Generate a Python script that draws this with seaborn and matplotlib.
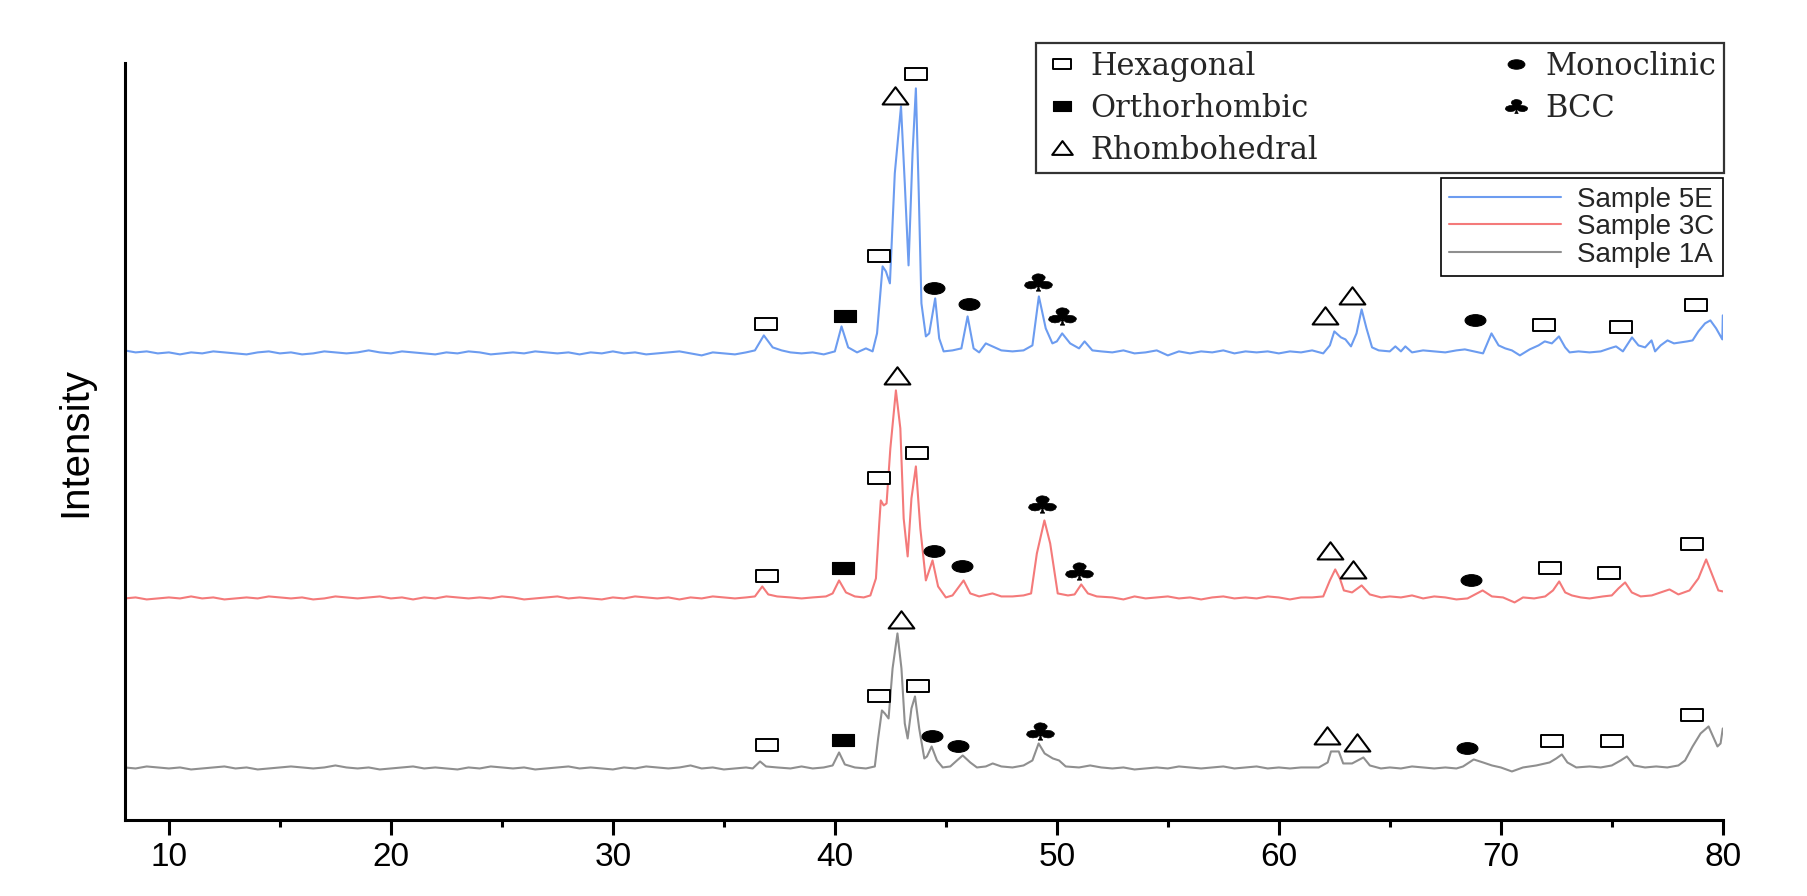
"""
XRD patterns of samples 1A, 3C and 5E with phase markers
"""

import matplotlib
matplotlib.use("Agg")
import matplotlib.pyplot as plt
import seaborn as sns
import pandas as pd
from matplotlib.lines import Line2D
from matplotlib.path import Path
from matplotlib.textpath import TextPath
from matplotlib.font_manager import FontProperties
from matplotlib.transforms import Affine2D
from matplotlib.ticker import MultipleLocator

# ---------------------------------------------------
# Data: (2theta, intensity above own baseline)
# ---------------------------------------------------
trace_5E = [
    (8.0, 3), (8.5, 1), (9.0, 2), (9.5, 0), (10.0, 1), (10.5, -1), (11.0, 1), (11.5, 0),
    (12.0, 2), (12.5, 1), (13.0, 0), (13.5, -1), (14.0, 1), (14.5, 2), (15.0, 0), (15.5, 1),
    (16.0, -1), (16.5, 0), (17.0, 2), (17.5, 1), (18.0, 0), (18.5, 1), (19.0, 3), (19.5, 1),
    (20.0, 0), (20.5, 2), (21.0, 1), (21.5, 0), (22.0, -1), (22.5, 1), (23.0, 0), (23.5, 2),
    (24.0, 1), (24.5, -1), (25.0, 0), (25.5, 1), (26.0, 0), (26.5, 2), (27.0, 1), (27.5, 0),
    (28.0, 1), (28.5, -1), (29.0, 1), (29.5, 0), (30.0, 2), (30.5, 0), (31.0, 1), (31.5, -1),
    (32.0, 0), (32.5, 1), (33.0, 2), (33.5, 0), (34.0, -2), (34.5, 1), (35.0, 0), (35.5, -1),
    (36.0, 1), (36.4, 3), (36.8, 18), (37.2, 6), (37.6, 3), (38.0, 1), (38.5, 0), (39.0, 1),
    (39.5, -1), (40.0, 2), (40.3, 27), (40.6, 6), (41.0, 1), (41.4, 5), (41.7, 2), (41.9, 20),
    (42.15, 87), (42.3, 82), (42.48, 70), (42.7, 180), (42.98, 247), (43.15, 170), (43.32, 88),
    (43.5, 200), (43.65, 265), (43.78, 160), (43.9, 50), (44.1, 17), (44.25, 20), (44.52, 55),
    (44.7, 15), (44.9, 2), (45.3, 3), (45.7, 5), (45.98, 37), (46.25, 5), (46.5, 1), (46.8, 10),
    (47.1, 7), (47.5, 3), (48.0, 2), (48.5, 3), (48.9, 8), (49.19, 57), (49.5, 25), (49.8, 10),
    (50.0, 12), (50.24, 20), (50.6, 10), (51.0, 5), (51.25, 12), (51.6, 3), (52.0, 2), (52.5, 1),
    (53.0, 3), (53.5, 0), (54.0, 1), (54.5, 3), (55.0, -2), (55.5, 2), (56.0, 0), (56.5, 2),
    (57.0, 1), (57.5, 3), (58.0, 0), (58.5, 2), (59.0, 1), (59.5, 2), (60.0, 0), (60.5, 2),
    (61.0, 1), (61.5, 3), (62.0, 0), (62.3, 8), (62.5, 22), (62.8, 16), (63.0, 14), (63.25, 7),
    (63.5, 20), (63.73, 44), (63.95, 25), (64.2, 6), (64.5, 3), (65.0, 2), (65.25, 7), (65.5, 2),
    (65.7, 7), (66.0, 1), (66.5, 3), (67.0, 2), (67.5, 1), (68.0, 3), (68.38, 4), (68.8, 2),
    (69.2, 0), (69.58, 20), (69.9, 8), (70.2, 5), (70.5, 3), (70.86, -2), (71.3, 4), (71.7, 8),
    (71.98, 12), (72.3, 10), (72.62, 17), (72.9, 6), (73.1, 1), (73.5, 2), (74.0, 1), (74.5, 2),
    (74.9, 5), (75.19, 7), (75.5, 2), (75.91, 16), (76.2, 8), (76.5, 6), (76.79, 13), (76.95, 2),
    (77.2, 8), (77.51, 13), (77.8, 10), (78.1, 11), (78.4, 12), (78.64, 13), (78.9, 22), (79.2, 30),
    (79.44, 33), (79.7, 25), (79.9, 17), (79.98, 14), (80.0, 38),
]

trace_3C = [
    (8.0, 0), (8.5, 1), (9.0, -1), (9.5, 0), (10.0, 1), (10.5, 0), (11.0, 2), (11.5, 0),
    (12.0, 1), (12.5, -1), (13.0, 0), (13.5, 1), (14.0, 0), (14.5, 2), (15.0, 1), (15.5, 0),
    (16.0, 1), (16.5, -1), (17.0, 0), (17.5, 2), (18.0, 1), (18.5, 0), (19.0, 1), (19.5, 2),
    (20.0, 0), (20.5, 1), (21.0, -1), (21.5, 1), (22.0, 0), (22.5, 2), (23.0, 1), (23.5, 0),
    (24.0, 1), (24.5, 0), (25.0, 2), (25.5, 1), (26.0, -1), (26.5, 0), (27.0, 1), (27.5, 2),
    (28.0, 0), (28.5, 1), (29.0, 0), (29.5, -1), (30.0, 1), (30.5, 0), (31.0, 2), (31.5, 1),
    (32.0, 0), (32.5, 1), (33.0, -1), (33.5, 1), (34.0, 0), (34.5, 2), (35.0, 1), (35.5, 0),
    (36.0, 1), (36.4, 2), (36.73, 12), (37.0, 4), (37.4, 2), (38.0, 1), (38.5, 0), (39.0, 1),
    (39.6, 2), (39.9, 5), (40.19, 18), (40.5, 6), (40.9, 2), (41.3, 1), (41.6, 3), (41.85, 20),
    (42.0, 75), (42.07, 98), (42.2, 93), (42.33, 95), (42.5, 150), (42.75, 208), (42.95, 170),
    (43.1, 80), (43.28, 42), (43.45, 100), (43.65, 132), (43.85, 70), (44.1, 18), (44.4, 38),
    (44.65, 12), (45.0, 1), (45.3, 3), (45.8, 18), (46.1, 5), (46.5, 2), (47.1, 5), (47.5, 2),
    (48.0, 2), (48.5, 3), (48.84, 5), (49.1, 45), (49.44, 78), (49.7, 55), (50.04, 5), (50.5, 3),
    (50.8, 4), (51.1, 14), (51.4, 5), (51.8, 2), (52.5, 1), (53.0, -1), (53.5, 2), (54.0, 0),
    (54.5, 1), (55.0, 2), (55.5, 0), (56.0, 1), (56.5, -1), (57.0, 1), (57.5, 2), (58.0, 0),
    (58.5, 1), (59.0, 0), (59.5, 2), (60.0, 1), (60.5, -1), (61.0, 1), (61.5, 1), (62.0, 2),
    (62.3, 18), (62.54, 29), (62.75, 20), (62.93, 8), (63.3, 6), (63.73, 13), (64.1, 4), (64.61, 1),
    (65.0, 2), (65.5, 1), (66.0, 3), (66.5, 0), (67.0, 2), (67.5, 1), (68.0, -1), (68.5, 0),
    (69.18, 8), (69.6, 2), (70.1, 1), (70.62, -4), (71.0, 1), (71.5, 0), (72.0, 2), (72.35, 8),
    (72.63, 17), (72.9, 6), (73.2, 3), (73.6, 1), (74.0, 0), (74.6, 2), (75.0, 3), (75.3, 10),
    (75.6, 16), (75.9, 6), (76.3, 2), (76.8, 3), (77.2, 6), (77.6, 9), (78.0, 4), (78.5, 8),
    (78.9, 20), (79.25, 39), (79.5, 25), (79.8, 8), (80.0, 7),
]

trace_1A = [
    (8.0, 1), (8.5, 0), (9.0, 2), (9.5, 1), (10.0, 0), (10.5, 1), (11.0, -1), (11.5, 0),
    (12.0, 1), (12.5, 2), (13.0, 0), (13.5, 1), (14.0, -1), (14.5, 0), (15.0, 1), (15.5, 2),
    (16.0, 1), (16.5, 0), (17.0, 1), (17.5, 3), (18.0, 1), (18.5, 0), (19.0, 1), (19.5, -1),
    (20.0, 0), (20.5, 1), (21.0, 2), (21.5, 0), (22.0, 1), (22.5, 0), (23.0, -1), (23.5, 1),
    (24.0, 0), (24.5, 2), (25.0, 1), (25.5, 0), (26.0, 1), (26.5, -1), (27.0, 0), (27.5, 1),
    (28.0, 2), (28.5, 0), (29.0, 1), (29.5, 0), (30.0, -1), (30.5, 1), (31.0, 0), (31.5, 2),
    (32.0, 1), (32.5, 0), (33.0, 1), (33.5, 3), (34.0, 0), (34.5, 1), (35.0, -1), (35.5, 0),
    (36.0, 1), (36.3, 0), (36.63, 7), (36.9, 2), (37.4, 1), (38.0, 0), (38.5, 2), (39.0, 0),
    (39.5, 1), (39.9, 3), (40.19, 16), (40.45, 4), (40.9, 1), (41.4, 0), (41.8, 2), (41.95, 30),
    (42.12, 58), (42.25, 55), (42.42, 50), (42.6, 100), (42.82, 135), (43.0, 100), (43.15, 45),
    (43.28, 30), (43.45, 60), (43.61, 72), (43.8, 40), (44.03, 10), (44.15, 12), (44.36, 22),
    (44.6, 8), (44.86, 1), (45.2, 2), (45.5, 8), (45.76, 13), (46.1, 6), (46.4, 1), (46.8, 2),
    (47.11, 5), (47.5, 2), (48.0, 1), (48.5, 3), (48.9, 8), (49.18, 25), (49.45, 15), (49.82, 10),
    (50.1, 8), (50.4, 2), (51.0, 1), (51.5, 3), (52.0, 1), (52.5, 0), (53.0, 1), (53.5, -1),
    (54.0, 0), (54.5, 1), (55.0, 0), (55.5, 2), (56.0, 1), (56.5, 0), (57.0, 1), (57.5, 2),
    (58.0, 0), (58.5, 1), (59.0, 2), (59.5, 0), (60.0, 1), (60.5, 0), (61.0, 1), (61.8, 1),
    (62.2, 6), (62.35, 17), (62.7, 17), (62.9, 5), (63.3, 5), (63.81, 11), (64.1, 3), (64.6, 0),
    (65.0, 1), (65.5, 0), (66.0, 2), (66.5, 1), (67.0, 0), (67.5, 1), (68.0, 0), (68.3, 2),
    (68.78, 9), (69.2, 6), (69.6, 3), (70.0, 1), (70.5, -3), (71.0, 1), (71.6, 3), (72.2, 6),
    (72.5, 10), (72.75, 14), (73.0, 6), (73.4, 1), (74.0, 2), (74.5, 1), (75.0, 3), (75.4, 8),
    (75.68, 12), (76.0, 3), (76.5, 1), (77.0, 2), (77.5, 1), (78.0, 3), (78.3, 8), (78.64, 22),
    (79.0, 35), (79.36, 42), (79.6, 30), (79.76, 22), (79.9, 25), (80.0, 40),
]

# phase marks: (phase, 2theta, height above baseline)
marks_5E = [
    ("Hexagonal", 36.89, 29), ("Orthorhombic", 40.46, 37), ("Hexagonal", 42.0, 97),
    ("Rhombohedral", 42.72, 257), ("Hexagonal", 43.65, 279), ("Monoclinic", 44.48, 65),
    ("Monoclinic", 46.06, 49), ("BCC", 49.14, 71), ("BCC", 50.22, 37),
    ("Rhombohedral", 62.10, 37), ("Rhombohedral", 63.29, 57), ("Monoclinic", 68.83, 33),
    ("Hexagonal", 71.95, 28), ("Hexagonal", 75.43, 26), ("Hexagonal", 78.80, 48),
]
marks_3C = [
    ("Hexagonal", 36.96, 22), ("Orthorhombic", 40.37, 30), ("Hexagonal", 42.0, 120),
    ("Rhombohedral", 42.80, 222), ("Hexagonal", 43.68, 145), ("Monoclinic", 44.45, 47),
    ("Monoclinic", 45.71, 32), ("BCC", 49.32, 94), ("BCC", 50.99, 27),
    ("Rhombohedral", 62.29, 47), ("Rhombohedral", 63.36, 28), ("Monoclinic", 68.67, 18),
    ("Hexagonal", 72.23, 30), ("Hexagonal", 74.87, 25), ("Hexagonal", 78.61, 54),
]
marks_1A = [
    ("Hexagonal", 36.93, 23), ("Orthorhombic", 40.37, 28), ("Hexagonal", 42.0, 72),
    ("Rhombohedral", 42.98, 148), ("Hexagonal", 43.76, 82), ("Monoclinic", 44.38, 32),
    ("Monoclinic", 45.53, 22), ("BCC", 49.22, 37),
    ("Rhombohedral", 62.18, 32), ("Rhombohedral", 63.54, 25), ("Monoclinic", 68.49, 20),
    ("Hexagonal", 72.31, 27), ("Hexagonal", 75.03, 27), ("Hexagonal", 78.61, 53),
]

samples = ["Sample 5E", "Sample 3C", "Sample 1A"]
traces = [trace_5E, trace_3C, trace_1A]
marks = [marks_5E, marks_3C, marks_1A]
offsets = [467, 222, 52]
colors = ["#6c9cf0", "#f47a7a", "#8f8f8f"]

phases = ["Hexagonal", "Orthorhombic", "Rhombohedral", "Monoclinic", "BCC"]

# ---------------------------------------------------
# Style
# ---------------------------------------------------
sns.set_style("ticks")
plt.rcParams["font.family"] = ["Liberation Sans", "DejaVu Sans"]

# marker shapes (slightly wide, like the glyphs in the original)
RECT = Path([(-1, -0.55), (1, -0.55), (1, 0.55), (-1, 0.55), (-1, -0.55)], closed=True)
TRI = Path([(-1, -0.62), (1, -0.62), (0, 0.72), (-1, -0.62)], closed=True)
ELLIPSE = Path.unit_circle().transformed(Affine2D().scale(1, 0.56))

club = TextPath((0, 0), "\u2663", size=1, prop=FontProperties(family="DejaVu Sans"))
club = Path.make_compound_path(*[Path(p, closed=True) for p in club.to_polygons()])
ext = club.get_extents()
CLUB = club.transformed(
    Affine2D()
    .translate(-(ext.x0 + ext.x1) / 2, -(ext.y0 + ext.y1) / 2)
    .scale(1.6 * ext.height / ext.width, 1)
)

phase_style = {
    "Hexagonal": dict(marker=RECT, ms=15.5, mfc="white", mec="black", mew=1.4),
    "Orthorhombic": dict(marker=RECT, ms=15.5, mfc="black", mec="black", mew=0.8),
    "Rhombohedral": dict(marker=TRI, ms=18.5, mfc="white", mec="black", mew=1.5),
    "Monoclinic": dict(marker=ELLIPSE, ms=15.0, mfc="black", mec="black", mew=0.8),
    "BCC": dict(marker=CLUB, ms=20.0, mfc="black", mec="black", mew=0.5),
}

# ---------------------------------------------------
# Figure
# ---------------------------------------------------
fig = plt.figure(figsize=(18.07, 8.96), dpi=100)
ax = fig.add_axes([0.0689, 0.0843, 0.8845, 0.845])

for name, trace, off, color in zip(samples, traces, offsets, colors):
    df = pd.DataFrame(trace, columns=["two_theta", "intensity"])
    df["intensity"] = df["intensity"] + off
    sns.lineplot(
        data=df,
        x="two_theta",
        y="intensity",
        color=color,
        linewidth=1.5,
        estimator=None,
        label=name,
        legend=False,
        ax=ax
    )

for sample_marks, off in zip(marks, offsets):
    for phase, tt, h in sample_marks:
        ax.plot(tt, off + h, ls="none", clip_on=False, zorder=5, **phase_style[phase])

ax.set_xlim(8, 80)
ax.set_ylim(0, 757)
ax.set_xlabel("")
ax.set_ylabel("Intensity", fontsize=29, color="black")
ax.yaxis.set_label_coords(-0.019, 0.5)
ax.set_yticks([])

ax.xaxis.set_major_locator(MultipleLocator(10))
ax.xaxis.set_minor_locator(MultipleLocator(5))
ax.tick_params(axis="x", which="major", direction="out", length=10.8, width=2.2,
               labelsize=24, pad=5, color="black", labelcolor="black")
ax.tick_params(axis="x", which="minor", direction="out", length=4.8, width=2.2,
               color="black")

for side in ["top", "right"]:
    ax.spines[side].set_visible(False)
for side in ["left", "bottom"]:
    ax.spines[side].set_linewidth(2.2)
    ax.spines[side].set_color("black")

# ---------------------------------------------------
# Legends
# ---------------------------------------------------
phase_handles = [Line2D([], [], ls="none", **phase_style[p]) for p in phases]
phase_legend = ax.legend(
    phase_handles,
    phases,
    ncol=2,
    mode="expand",
    loc="upper left",
    bbox_to_anchor=(0.570, 0.857, 0.4305, 0.170),
    borderaxespad=0,
    borderpad=0.25,
    labelspacing=0.36,
    handlelength=1.2,
    handletextpad=0.35,
    markerscale=0.8,
    fancybox=False,
    framealpha=1,
    edgecolor="#333333",
    prop=FontProperties(family="DejaVu Serif", size=22)
)
phase_legend.get_frame().set_linewidth(1.6)
ax.add_artist(phase_legend)

handles, labels = ax.get_legend_handles_labels()
sample_legend = ax.legend(
    handles[:3],
    labels[:3],
    loc="upper right",
    bbox_to_anchor=(1.0, 0.848),
    borderaxespad=0,
    borderpad=0.3,
    labelspacing=0.05,
    handlelength=4.0,
    handletextpad=0.6,
    fancybox=False,
    framealpha=1,
    edgecolor="black",
    prop=FontProperties(family="Liberation Sans", size=20)
)
sample_legend.get_frame().set_linewidth(1.2)

plt.savefig("out.png", dpi=100)
plt.close()
